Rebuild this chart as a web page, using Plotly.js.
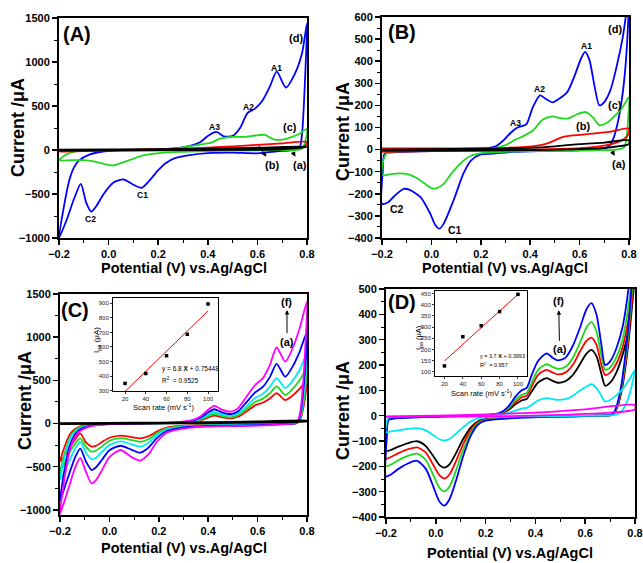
<!DOCTYPE html>
<html><head><meta charset="utf-8">
<script src="https://cdn.plot.ly/plotly-3.0.1.min.js"></script>
<style>html,body{margin:0;padding:0;background:#fff}#chart{width:643px;height:563px}</style>
</head><body><div id="chart"></div>
<script>
// ================= DATA =================
// ---- Panel A ----
const A_d_fx = [-0.2,-0.18,-0.16,-0.14,-0.12,-0.08,-0.03,0.05,0.15,0.25,0.32,0.37,0.40,0.435,0.465,0.50,0.53,0.56,0.59,0.62,0.65,0.678,0.715,0.75,0.78,0.80];
const A_d_fy = [-1000,-640,-360,-200,-120,-55,-20,0,5,15,40,90,160,205,155,160,250,420,470,560,720,890,710,860,1100,1440];
const A_d_rx = [0.80,0.795,0.788,0.78,0.77,0.74,0.68,0.60,0.50,0.40,0.32,0.27,0.23,0.20,0.17,0.133,0.10,0.06,0.02,-0.02,-0.05,-0.07,-0.09,-0.112,-0.14,-0.17,-0.2];
const A_d_ry = [1440,1000,550,180,30,0,-15,-38,-30,-35,-60,-90,-150,-230,-330,-430,-395,-335,-370,-500,-640,-700,-600,-385,-560,-800,-1000];

const A_c_fx = [-0.2,-0.19,-0.17,-0.14,-0.1,0,0.1,0.2,0.27,0.32,0.37,0.41,0.45,0.50,0.55,0.59,0.63,0.665,0.70,0.74,0.77,0.80];
const A_c_fy = [-117,-90,-50,-20,-8,0,3,8,18,40,62,80,130,150,150,165,172,120,118,150,185,240];
const A_c_rx = [0.80,0.795,0.785,0.77,0.70,0.60,0.50,0.40,0.30,0.234,0.17,0.126,0.07,0.018,-0.02,-0.06,-0.10,-0.15,-0.2];
const A_c_ry = [240,120,30,5,0,-3,-8,-12,-20,-27,-48,-72,-130,-174,-158,-128,-115,-115,-117];

const A_b_fx = [-0.2,-0.15,-0.05,0.1,0.2,0.3,0.4,0.5,0.6,0.7,0.8];
const A_b_fy = [-20,-5,0,4,8,15,28,42,58,75,92];
const A_b_rx = [0.8,0.79,0.75,0.65,0.5,0.3,0.1,-0.1,-0.2];
const A_b_ry = [92,40,25,15,8,0,-5,-12,-20];

const A_a_fx = [-0.2,0,0.2,0.4,0.6,0.8];
const A_a_fy = [0,3,6,12,22,38];
const A_a_rx = [0.8,0.7,0.5,0.2,-0.2];
const A_a_ry = [38,12,4,0,-3];

// ---- Panel B ----
const B_d_fx = [-0.2,-0.197,-0.19,-0.15,-0.05,0.05,0.15,0.22,0.26,0.29,0.32,0.345,0.365,0.385,0.41,0.44,0.465,0.49,0.52,0.55,0.58,0.605,0.622,0.64,0.66,0.68,0.70,0.725,0.75,0.775,0.80];
const B_d_fy = [-245,-100,-20,-12,-8,-5,0,5,15,40,75,98,106,115,190,245,228,214,232,260,335,410,442,405,290,200,215,270,376,510,700];
const B_d_rx = [0.80,0.79,0.775,0.755,0.735,0.715,0.69,0.6,0.45,0.33,0.25,0.2,0.16,0.13,0.09,0.05,0.033,0.015,-0.005,-0.045,-0.09,-0.112,-0.15,-0.175,-0.2];
const B_d_ry = [700,440,260,125,45,12,3,-3,-6,-10,-18,-22,-50,-108,-229,-335,-358,-340,-289,-214,-181,-178,-210,-238,-245];

const B_c_fx = [-0.2,-0.195,-0.18,-0.1,0.0,0.1,0.2,0.25,0.3,0.34,0.37,0.41,0.45,0.49,0.52,0.55,0.59,0.625,0.655,0.68,0.71,0.74,0.77,0.80];
const B_c_fy = [-116,-50,-15,-8,-5,-2,2,5,20,45,60,85,135,150,143,140,160,170,145,110,120,150,185,237];
const B_c_rx = [0.80,0.797,0.79,0.78,0.75,0.65,0.5,0.35,0.25,0.2,0.16,0.12,0.08,0.05,0.02,0.005,-0.02,-0.05,-0.09,-0.13,-0.17,-0.2];
const B_c_ry = [237,150,50,10,0,-3,-5,-8,-12,-17,-28,-60,-110,-155,-175,-176,-160,-135,-113,-108,-112,-116];

const B_b_fx = [-0.2,0,0.2,0.3,0.38,0.43,0.47,0.5,0.53,0.57,0.65,0.72,0.8];
const B_b_fy = [5,5,6,8,12,18,28,42,56,64,72,80,96];
const B_b_rx = [0.8,0.797,0.78,0.74,0.7,0.6,0.4,0.2,0,-0.2];
const B_b_ry = [96,70,48,28,18,6,0,-4,-7,-10];

const B_a_fx = [-0.2,0,0.2,0.4,0.5,0.6,0.7,0.8];
const B_a_fy = [0,2,4,8,15,25,32,42];
const B_a_rx = [0.8,0.75,0.7,0.6,0.4,0.2,-0.2];
const B_a_ry = [25,14,8,2,-2,-4,-5];

// ---- Panel C (scan rates) ----
const C_fx = [-0.2,-0.19,-0.175,-0.16,-0.14,-0.12,-0.09,-0.05,0.0,0.1,0.2,0.28,0.33,0.37,0.40,0.425,0.455,0.49,0.52,0.55,0.59,0.62,0.65,0.677,0.712,0.74,0.77,0.80];
const C_rx = [0.80,0.795,0.785,0.775,0.765,0.755,0.70,0.60,0.50,0.40,0.32,0.27,0.23,0.19,0.16,0.125,0.09,0.045,0.0,-0.03,-0.055,-0.072,-0.095,-0.118,-0.14,-0.16,-0.18,-0.2];
const C_mag_fy = [-1050,-800,-520,-300,-160,-90,-45,-20,-8,0,5,15,35,85,160,205,160,137,175,290,446,520,680,880,716,860,1100,1411];
const C_mag_ry = [1411,1000,500,180,40,5,-10,-25,-30,-35,-50,-75,-110,-220,-350,-430,-390,-307,-390,-540,-660,-695,-560,-400,-520,-700,-880,-1050];
const C_blu_fy = [-900,-680,-440,-250,-130,-70,-35,-15,-6,0,4,12,28,70,130,165,130,110,140,230,360,420,540,690,542,650,830,1060];
const C_blu_ry = [1060,750,380,135,30,4,-8,-20,-25,-28,-40,-60,-90,-175,-275,-338,-305,-258,-310,-420,-510,-540,-440,-290,-400,-560,-730,-900];
const C_cya_fy = [-650,-500,-320,-180,-100,-55,-28,-12,-5,0,3,10,22,55,105,130,105,90,115,185,295,340,425,525,410,490,620,810];
const C_cya_ry = [810,580,290,105,24,3,-6,-15,-20,-22,-32,-48,-72,-140,-220,-268,-242,-208,-250,-330,-400,-415,-340,-212,-300,-420,-540,-650];
const C_grn_fy = [-580,-440,-280,-160,-85,-45,-22,-10,-4,0,3,8,18,45,85,110,88,72,95,155,250,285,350,430,330,395,500,640];
const C_grn_ry = [640,460,230,82,18,2,-5,-12,-16,-18,-27,-40,-60,-115,-180,-212,-192,-170,-200,-265,-315,-326,-270,-172,-240,-330,-450,-580];
const C_red_fy = [-440,-340,-220,-125,-65,-35,-18,-8,-3,0,2,6,14,36,70,90,72,58,78,130,210,240,290,352,272,320,400,500];
const C_red_ry = [500,360,180,65,14,2,-4,-10,-13,-15,-22,-32,-50,-95,-145,-172,-158,-140,-165,-215,-260,-268,-220,-114,-190,-280,-370,-440];
const C_blk_fx = [-0.2,0.0,0.2,0.4,0.6,0.8];
const C_blk_fy = [0,3,7,12,20,32];
const C_blk_rx = [0.8,0.6,0.3,0,-0.2];
const C_blk_ry = [28,15,5,0,-3];

// ---- Panel D ----
const D_fx = [-0.2,-0.197,-0.19,-0.15,-0.05,0.05,0.15,0.22,0.26,0.29,0.32,0.345,0.365,0.385,0.41,0.445,0.47,0.49,0.52,0.55,0.58,0.605,0.625,0.645,0.665,0.68,0.70,0.725,0.75,0.775,0.80];
const D_rx = [0.80,0.79,0.775,0.76,0.745,0.73,0.715,0.70,0.65,0.5,0.35,0.25,0.2,0.17,0.14,0.11,0.08,0.055,0.035,0.015,-0.01,-0.04,-0.075,-0.11,-0.15,-0.18,-0.2];
const D_blu_fy = [-240,-90,-18,-10,-6,-3,0,4,12,35,75,100,110,160,215,246,228,218,228,275,350,420,444,400,280,200,214,265,350,510,750];
const D_blu_ry = [750,560,370,230,120,50,12,3,0,-4,-8,-14,-20,-35,-80,-160,-260,-330,-355,-340,-280,-210,-178,-188,-210,-232,-240];
const D_grn_fy = [-200,-75,-15,-9,-5,-3,0,3,10,29,62,82,90,130,180,203,192,185,192,228,290,348,369,333,235,181,190,230,300,440,640];
const D_grn_ry = [640,520,345,210,110,45,10,2,0,-4,-7,-12,-18,-30,-68,-135,-220,-280,-299,-285,-235,-175,-150,-158,-176,-193,-200];
const D_red_fy = [-170,-65,-13,-8,-4,-2,0,3,9,25,53,72,79,115,160,181,170,163,170,200,255,295,308,280,200,161,170,205,270,390,600];
const D_red_ry = [600,480,320,195,100,40,9,2,0,-3,-6,-11,-16,-26,-57,-112,-182,-232,-248,-236,-195,-146,-125,-132,-148,-163,-170];
const D_blk_fy = [-140,-55,-11,-7,-4,-2,0,2,8,21,45,60,66,95,130,148,137,130,136,160,205,245,260,235,165,118,130,170,240,340,560];
const D_blk_ry = [560,450,300,180,92,36,8,1,0,-3,-5,-9,-14,-22,-47,-92,-150,-192,-205,-195,-160,-120,-101,-108,-122,-135,-140];
const D_cya_fy = [-65,-25,-6,-4,-2,-1,0,1,4,10,20,28,31,42,60,69,65,62,65,78,100,115,124,110,78,56,62,80,105,140,180];
const D_cya_ry = [180,130,75,38,16,6,2,1,0,-2,-3,-5,-7,-11,-23,-45,-72,-92,-98,-93,-77,-58,-49,-52,-58,-62,-65];
const D_mag_fx = [-0.2,0.0,0.2,0.4,0.6,0.8];
const D_mag_fy = [-3,0,5,12,25,42];
const D_mag_rx = [0.8,0.7,0.5,0.3,0.0,-0.2];
const D_mag_ry = [25,12,3,-2,-4,-5];

// ---- Insets (peak current vs scan rate) ----
const C_rate = [20,40,60,80,100];
const C_ipa  = [350,418,540,687,895];
const C_fitX = [20,100];
const C_fitY = [295,847];
const D_rate = [20,40,60,80,100];
const D_ipa  = [127,257,306,369,446];
const D_fitX = [20,100];
const D_fitY = [149,446];

// ================= PLOT =================
const W = 643, H = 563;
const FONT = 'Liberation Sans, Arial, Helvetica, sans-serif';
const COL = {blue:'#0000ff', green:'#1ed81e', red:'#ff0000', black:'#000000', cyan:'#00e8f0', mag:'#ff00ff'};
function domX(a,b){return [a/W, b/W];}
function domY(top,bot){return [1-bot/H, 1-top/H];}

function cv(fx, fy, rx, ry, color, xa, ya, width){
  let x = fx.slice(), y = fy.slice();
  let s = (rx[0]===fx[fx.length-1] && ry[0]===fy[fy.length-1]) ? 1 : 0;
  x = x.concat(rx.slice(s)); y = y.concat(ry.slice(s));
  return {type:'scatter', mode:'lines', x:x, y:y, xaxis:xa, yaxis:ya,
    line:{color:color, width:width||1.8, shape:'spline', smoothing:0.7},
    hoverinfo:'skip', showlegend:false};
}

const traces = [
  cv(A_d_fx,A_d_fy,A_d_rx,A_d_ry,COL.blue,'x','y'),
  cv(A_c_fx,A_c_fy,A_c_rx,A_c_ry,COL.green,'x','y'),
  cv(A_b_fx,A_b_fy,A_b_rx,A_b_ry,COL.red,'x','y'),
  cv(A_a_fx,A_a_fy,A_a_rx,A_a_ry,COL.black,'x','y',2.4),
  cv(B_d_fx,B_d_fy,B_d_rx,B_d_ry,COL.blue,'x2','y2'),
  cv(B_c_fx,B_c_fy,B_c_rx,B_c_ry,COL.green,'x2','y2'),
  cv(B_b_fx,B_b_fy,B_b_rx,B_b_ry,COL.red,'x2','y2'),
  cv(B_a_fx,B_a_fy,B_a_rx,B_a_ry,COL.black,'x2','y2'),
  cv(C_fx,C_red_fy,C_rx,C_red_ry,COL.red,'x3','y3'),
  cv(C_fx,C_grn_fy,C_rx,C_grn_ry,COL.green,'x3','y3'),
  cv(C_fx,C_cya_fy,C_rx,C_cya_ry,COL.cyan,'x3','y3'),
  cv(C_fx,C_blu_fy,C_rx,C_blu_ry,COL.blue,'x3','y3'),
  cv(C_fx,C_mag_fy,C_rx,C_mag_ry,COL.mag,'x3','y3'),
  cv(C_blk_fx,C_blk_fy,C_blk_rx,C_blk_ry,COL.black,'x3','y3',2.4),
  cv(D_fx,D_blk_fy,D_rx,D_blk_ry,COL.black,'x4','y4'),
  cv(D_fx,D_red_fy,D_rx,D_red_ry,COL.red,'x4','y4'),
  cv(D_fx,D_grn_fy,D_rx,D_grn_ry,COL.green,'x4','y4'),
  cv(D_fx,D_blu_fy,D_rx,D_blu_ry,COL.blue,'x4','y4'),
  cv(D_fx,D_cya_fy,D_rx,D_cya_ry,COL.cyan,'x4','y4'),
  cv(D_mag_fx,D_mag_fy,D_mag_rx,D_mag_ry,COL.mag,'x4','y4'),
  {type:'scatter',mode:'lines',x:C_fitX,y:C_fitY,xaxis:'x5',yaxis:'y5',line:{color:'#ff0000',width:1},hoverinfo:'skip',showlegend:false},
  {type:'scatter',mode:'markers',x:C_rate,y:C_ipa,xaxis:'x5',yaxis:'y5',marker:{symbol:'square',size:3.5,color:'#000'},hoverinfo:'skip',showlegend:false},
  {type:'scatter',mode:'lines',x:D_fitX,y:D_fitY,xaxis:'x6',yaxis:'y6',line:{color:'#ff0000',width:1},hoverinfo:'skip',showlegend:false},
  {type:'scatter',mode:'markers',x:D_rate,y:D_ipa,xaxis:'x6',yaxis:'y6',marker:{symbol:'square',size:3.5,color:'#000'},hoverinfo:'skip',showlegend:false}
];

function mainX(dom, anchor){
  return {domain:dom, anchor:anchor, range:[-0.2,0.8], tick0:-0.2, dtick:0.2, tickformat:'.1f',
    showline:true, linewidth:2, linecolor:'#000', mirror:true, ticks:'outside', ticklen:5, tickwidth:1.5, tickcolor:'#000',
    showgrid:false, zeroline:false, fixedrange:true,
    tickfont:{family:FONT,size:11,color:'#000',weight:'bold'},
    minor:{ticks:'outside',ticklen:3,tickwidth:1,tickcolor:'#000',dtick:0.1,tick0:-0.2,showgrid:false}};
}
function mainY(dom, anchor, range, dtick, minor, tick0){
  return {domain:dom, anchor:anchor, range:range, tick0:tick0, dtick:dtick,
    showline:true, linewidth:2, linecolor:'#000', mirror:true, ticks:'outside', ticklen:5, tickwidth:1.5, tickcolor:'#000',
    showgrid:false, zeroline:false, fixedrange:true,
    tickfont:{family:FONT,size:11,color:'#000',weight:'bold'},
    minor:{ticks:'outside',ticklen:3,tickwidth:1,tickcolor:'#000',dtick:minor,tick0:tick0,showgrid:false}};
}
function insetAx(dom, anchor, range, dtick, tick0){
  return {domain:dom, anchor:anchor, range:range, dtick:dtick, tick0:tick0,
    showline:true, linewidth:1, linecolor:'#000', mirror:true, ticks:'outside', ticklen:2, tickwidth:0.8, tickcolor:'#000',
    showgrid:false, zeroline:false, fixedrange:true,
    tickfont:{family:FONT,size:6,color:'#222'}};
}

const layout = {
  width:W, height:H, autosize:false, margin:{l:0,r:0,t:0,b:0},
  paper_bgcolor:'#fff', plot_bgcolor:'#fff', showlegend:false,
  font:{family:FONT,color:'#000'},
  xaxis:  mainX(domX(59,307),'y'),
  yaxis:  mainY(domY(18,238),'x',[-1000,1500],500,250,-1000),
  xaxis2: mainX(domX(382,629),'y2'),
  yaxis2: mainY(domY(17,238),'x2',[-400,600],100,50,-400),
  xaxis3: mainX(domX(60,307),'y3'),
  yaxis3: mainY(domY(294,515),'x3',[-1060,1500],500,250,-1000),
  xaxis4: mainX(domX(386,635),'y4'),
  yaxis4: mainY(domY(289,517),'x4',[-400,500],100,50,-400),
  xaxis5: insetAx(domX(113,218),'y5',[8.4,109.6],20,0),
  yaxis5: insetAx(domY(298,391),'x5',[298,936],100,0),
  xaxis6: insetAx(domX(435,527),'y6',[9.7,109.8],20,0),
  yaxis6: insetAx(domY(291,376),'x6',[82,461],50,0),
  annotations:[]
};

const ann = layout.annotations;
function pText(px,py,text,size,opt){
  ann.push(Object.assign({xref:'paper',yref:'paper',x:px/W,y:1-py/H,text:text,showarrow:false,
    xanchor:'center',yanchor:'middle',font:{family:FONT,size:size,color:'#000',weight:'bold'}},opt||{}));
}
function dText(xr,yr,x,y,text,size,opt){
  ann.push(Object.assign({xref:xr,yref:yr,x:x,y:y,text:text,showarrow:false,
    xanchor:'center',yanchor:'middle',font:{family:FONT,size:size,color:'#000',weight:'bold'}},opt||{}));
}
function arrowLabel(xr,yr,text,size,tx,ty,cx,cy,side){
  ann.push({xref:xr,yref:yr,axref:xr,ayref:yr,x:cx,y:cy,ax:tx,ay:ty,text:text,showarrow:true,
    arrowhead:2,startarrowhead:2,arrowside:side,arrowsize:0.9,arrowwidth:1,arrowcolor:'#000',
    standoff:1,startstandoff:1,font:{family:FONT,size:size,color:'#000',weight:'bold'}});
}

// panel letters
pText(77,34,'(A)',20); pText(402,32,'(B)',20); pText(75,310,'(C)',20); pText(402,302,'(D)',20);
// axis titles
const XT = 'Potential (V) vs.Ag/AgCl', YT = 'Current /μA';
pText(184,268,XT,14.5); pText(505,268,XT,14.5); pText(184,548,XT,14.5); pText(510,553,XT,14.5);
pText(18,128,YT,18,{textangle:-90}); pText(343,132,YT,18,{textangle:-90});
pText(25,401,YT,18,{textangle:-90}); pText(343,411,YT,18,{textangle:-90});

// Panel A labels
dText('x','y',0.757,1273,'(d)',11);
dText('x','y',0.679,935,'A1',8.5);
dText('x','y',0.564,492,'A2',8.5);
dText('x','y',0.425,264,'A3',8.5);
dText('x','y',0.733,256,'(c)',11);
arrowLabel('x','y','(b)',11,0.659,-172,0.604,55,'start');
arrowLabel('x','y','(a)',11,0.772,-172,0.740,-10,'start');
dText('x','y',0.137,-508,'C1',8.5);
dText('x','y',-0.073,-784,'C2',8.5);

// Panel B labels
dText('x2','y2',0.742,546,'(d)',11);
dText('x2','y2',0.628,467,'A1',8.5);
dText('x2','y2',0.439,272,'A2',8.5);
dText('x2','y2',0.342,122,'A3',8.5);
dText('x2','y2',0.742,202,'(c)',11);
dText('x2','y2',0.614,107,'(b)',11);
arrowLabel('x2','y2','(a)',11,0.760,-67,0.729,-2,'start');
dText('x2','y2',-0.139,-270,'C2',10.5);
dText('x2','y2',0.096,-365,'C1',10.5);

// Panel C labels
dText('x3','y3',0.719,1411,'(f)',11);
arrowLabel('x3','y3','(a)',11,0.719,948,0.719,1325,'end');

// Panel D labels
dText('x4','y4',0.494,452,'(f)',11);
arrowLabel('x4','y4','(a)',11,0.497,262,0.494,420,'end');

// Inset C texts
pText(163,407,'Scan rate (mV s<sup>-1</sup>)',7.5,{font:{family:FONT,size:7.5,color:'#000'}});
pText(97,340,'I<sub>pa</sub> (μA)',8,{textangle:-90,font:{family:FONT,size:8,color:'#000'}});
dText('x5','y5',54,447,'y = 6.8 <b>X</b> + 0.75448',6.5,{xanchor:'left',font:{family:FONT,size:6.5,color:'#000'}});
dText('x5','y5',54,374,'R<sup>2</sup>  = 0.9525',6.5,{xanchor:'left',font:{family:FONT,size:6.5,color:'#000'}});
// Inset D texts
pText(481,393,'Scan rate (mV s<sup>-1</sup>)',7.5,{font:{family:FONT,size:7.5,color:'#000'}});
pText(419,338,'I<sub>pa</sub> (μA)',7.5,{textangle:-90,font:{family:FONT,size:7.5,color:'#000'}});
dText('x6','y6',57,172,'y = 3.7 <b>X</b> + 0.3993',5.5,{xanchor:'left',font:{family:FONT,size:5.5,color:'#000'}});
dText('x6','y6',57,131,'R<sup>2</sup>  = 0.957',5.5,{xanchor:'left',font:{family:FONT,size:5.5,color:'#000'}});

Plotly.newPlot('chart', traces, layout, {displayModeBar:false, staticPlot:true});
</script>
</body></html>
